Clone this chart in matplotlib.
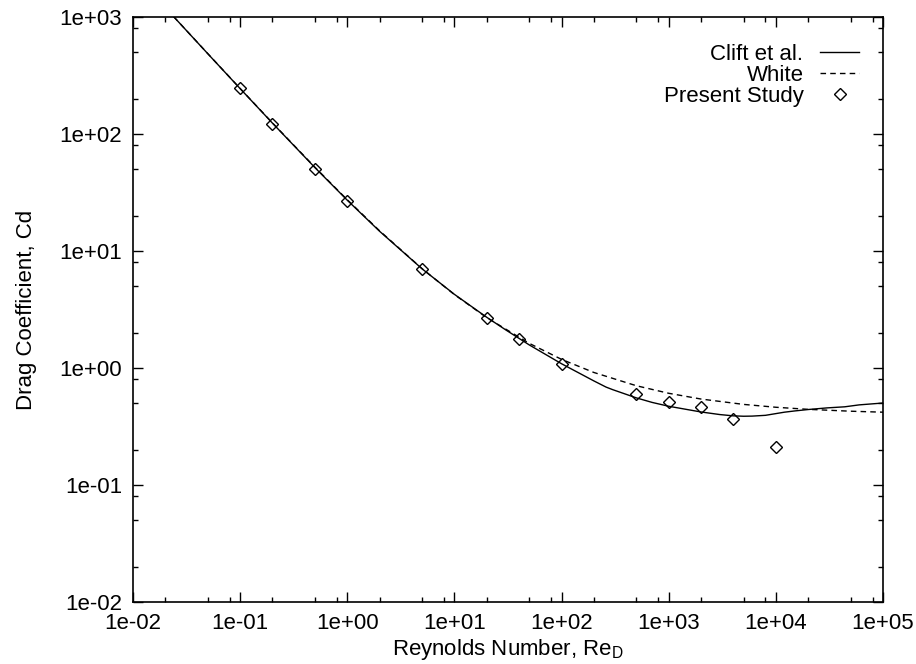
"""Drag coefficient vs Reynolds number: Clift et al., White and present study."""

import matplotlib
matplotlib.use("Agg")
matplotlib.rcParams["font.family"] = ["Liberation Sans", "DejaVu Sans"]
matplotlib.rcParams["font.size"] = 16
matplotlib.rcParams["mathtext.fontset"] = "custom"
matplotlib.rcParams["mathtext.rm"] = "Liberation Sans"
import matplotlib.pyplot as plt
from matplotlib.ticker import LogLocator, NullFormatter, FixedFormatter

# ── Data ──
clift_re = [0.02, 0.05, 0.1, 0.2, 0.5, 1, 2, 5, 10, 20, 30, 50, 100, 200, 260, 300,
            500, 700, 1000, 1500, 2000, 3000, 4000, 5000, 6000, 8000, 12000, 15000,
            20000, 30000, 44000, 60000, 100000]
clift_cd = [1204.6, 484.5, 244.3, 124.0, 51.5, 27.16, 14.76, 7.03, 4.26, 2.715, 2.122,
            1.574, 1.087, 0.776, 0.687, 0.653, 0.555, 0.508, 0.471, 0.441, 0.421, 0.400,
            0.390, 0.387, 0.388, 0.394, 0.419, 0.4295, 0.4416, 0.456, 0.466, 0.484, 0.502]

white_re = [0.024, 0.05, 0.1, 0.2, 0.5, 1, 2, 5, 10, 20, 50, 100, 200, 500, 1000,
            2000, 5000, 10000, 20000, 50000, 100000]
white_cd = [1005.6, 485.3, 244.96, 124.5, 51.9, 27.4, 14.89, 7.05, 4.24, 2.697, 1.623,
            1.185, 0.916, 0.705, 0.608, 0.543, 0.4885, 0.4618, 0.4433, 0.4272, 0.4191]

study_re = [0.1, 0.2, 0.5, 1, 5, 20, 40, 100, 500, 1000, 2000, 4000, 10000]
study_cd = [245, 122, 50, 26.5, 7.0, 2.65, 1.77, 1.08, 0.60, 0.515, 0.46, 0.365, 0.21]

x_ticks = [1e-2, 1e-1, 1e0, 1e1, 1e2, 1e3, 1e4, 1e5]
x_ticklabels = ["1e-02", "1e-01", "1e+00", "1e+01", "1e+02", "1e+03", "1e+04", "1e+05"]
y_ticks = [1e-2, 1e-1, 1e0, 1e1, 1e2, 1e3]
y_ticklabels = ["1e-02", "1e-01", "1e+00", "1e+01", "1e+02", "1e+03"]


def main():
    fig = plt.figure(figsize=(9.16, 6.64), dpi=100)
    ax = fig.add_axes([133 / 916, 1 - 602 / 664, 750 / 916, 585 / 664])

    ax.plot(clift_re, clift_cd, color="black", lw=1.0, label="Clift et al.")
    ax.plot(white_re, white_cd, color="black", lw=1.0, ls=(0, (4, 3)), label="White")
    ax.plot(study_re, study_cd, ls="none", marker="D", ms=6, mfc="none", mec="black",
            mew=1.0, label="Present Study")

    ax.set_xscale("log")
    ax.set_yscale("log")
    ax.set_xlim(1e-2, 1e5)
    ax.set_ylim(1e-2, 1e3)

    ax.set_xticks(x_ticks)
    ax.xaxis.set_major_formatter(FixedFormatter(x_ticklabels))
    ax.set_yticks(y_ticks)
    ax.yaxis.set_major_formatter(FixedFormatter(y_ticklabels))
    ax.xaxis.set_minor_locator(LogLocator(base=10, subs=(2, 5, 8), numticks=20))
    ax.yaxis.set_minor_locator(LogLocator(base=10, subs=(2, 5, 8), numticks=20))
    ax.xaxis.set_minor_formatter(NullFormatter())
    ax.yaxis.set_minor_formatter(NullFormatter())
    ax.tick_params(which="both", direction="in", top=True, right=True, width=1.0)
    ax.tick_params(which="major", length=7, pad=8)
    ax.tick_params(which="minor", length=3.6)
    for sp in ax.spines.values():
        sp.set_linewidth(1.2)

    ax.set_xlabel("Reynolds Number, Re$_\\mathregular{D}$", labelpad=2)
    ax.set_ylabel("Drag Coefficient, Cd", labelpad=16)

    ax.legend(loc="upper right", bbox_to_anchor=(1.0, 0.995), frameon=False,
              markerfirst=False, handlelength=1.75, handletextpad=0.75,
              labelspacing=0.0, borderaxespad=0.68, numpoints=1)

    fig.savefig("out.png", dpi=100)


if __name__ == "__main__":
    main()
